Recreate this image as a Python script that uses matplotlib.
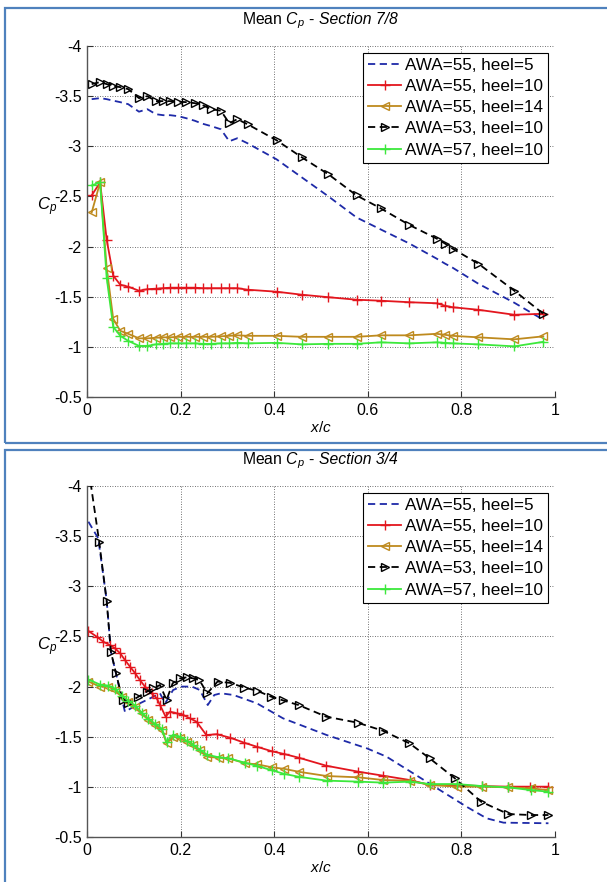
import matplotlib
matplotlib.use("Agg")
import matplotlib.pyplot as plt
from matplotlib.patches import Rectangle

plt.rcParams['font.family'] = ['Liberation Sans', 'DejaVu Sans']
plt.rcParams['mathtext.fontset'] = 'custom'
plt.rcParams['mathtext.rm'] = 'Liberation Sans'
plt.rcParams['mathtext.it'] = 'Liberation Sans:italic'
plt.rcParams['mathtext.bf'] = 'Liberation Sans:bold'

# ---------------- data: Section 7/8 (top) ----------------
x_top = [0.010, 0.028, 0.042, 0.056, 0.071, 0.088, 0.111, 0.129, 0.147, 0.163,
         0.178, 0.195, 0.212, 0.230, 0.247, 0.266, 0.286, 0.304, 0.321, 0.343,
         0.405, 0.459, 0.516, 0.576, 0.628, 0.689, 0.747, 0.765, 0.781, 0.836,
         0.913, 0.975]
top_awa55_h5 = [-3.47, -3.48, -3.47, -3.455, -3.44, -3.42, -3.345, -3.37, -3.32, -3.31,
                -3.31, -3.30, -3.28, -3.255, -3.225, -3.20, -3.17, -3.05, -3.08, -3.03,
                -2.87, -2.69, -2.50, -2.29, -2.17, -2.03, -1.88, -1.83, -1.79, -1.63,
                -1.44, -1.27]
top_awa55_h10 = [-2.51, -2.64, -2.07, -1.71, -1.62, -1.60, -1.56, -1.575, -1.58, -1.585,
                 -1.59, -1.59, -1.59, -1.59, -1.585, -1.585, -1.585, -1.585, -1.585, -1.57,
                 -1.55, -1.52, -1.495, -1.47, -1.46, -1.445, -1.435, -1.41, -1.395, -1.37,
                 -1.32, -1.33]
top_awa55_h14 = [-2.34, -2.64, -1.79, -1.28, -1.16, -1.13, -1.085, -1.085, -1.09, -1.095,
                 -1.095, -1.10, -1.10, -1.10, -1.10, -1.10, -1.105, -1.11, -1.115, -1.11,
                 -1.11, -1.10, -1.10, -1.10, -1.115, -1.115, -1.13, -1.12, -1.11, -1.095,
                 -1.075, -1.105]
top_awa53_h10 = [-3.62, -3.64, -3.62, -3.60, -3.59, -3.57, -3.48, -3.50, -3.45, -3.45,
                 -3.45, -3.445, -3.44, -3.43, -3.41, -3.37, -3.355, -3.23, -3.27, -3.22,
                 -3.06, -2.89, -2.72, -2.51, -2.38, -2.215, -2.08, -2.03, -1.98, -1.83,
                 -1.56, -1.33]
top_awa57_h10 = [-2.61, -2.64, -1.69, -1.20, -1.11, -1.06, -1.01, -1.01, -1.025, -1.03,
                 -1.035, -1.035, -1.035, -1.035, -1.03, -1.03, -1.035, -1.035, -1.04, -1.035,
                 -1.04, -1.025, -1.03, -1.03, -1.045, -1.035, -1.045, -1.04, -1.035, -1.025,
                 -1.005, -1.05]

# ---------------- data: Section 3/4 (bottom) ----------------
x_bot_awa55_h5 = [0.003, 0.024, 0.042, 0.051, 0.062, 0.081, 0.113, 0.142, 0.156, 0.167,
                  0.184, 0.202, 0.224, 0.241, 0.258, 0.272, 0.286, 0.313, 0.363, 0.419,
                  0.512, 0.598, 0.640, 0.697, 0.754, 0.811, 0.854, 0.890, 0.986]
bot_awa55_h5 = [-3.644, -3.478, -2.86, -2.35, -2.13, -1.749, -1.833, -1.899, -1.932, -1.833,
                -1.966, -2.00, -2.00, -1.966, -1.816, -1.916, -1.933, -1.916, -1.833, -1.683,
                -1.517, -1.384, -1.301, -1.135, -0.968, -0.802, -0.686, -0.643, -0.637]

x_bot_awa55_h10 = [0.003, 0.021, 0.035, 0.049, 0.060, 0.071, 0.081, 0.092, 0.103, 0.113,
                   0.124, 0.138, 0.149, 0.156, 0.168, 0.177, 0.192, 0.206, 0.220, 0.234,
                   0.255, 0.277, 0.306, 0.336, 0.363, 0.395, 0.421, 0.453, 0.511, 0.580,
                   0.633, 0.690, 0.733, 0.790, 0.843, 0.900, 0.947, 0.986]
bot_awa55_h10 = [-2.554, -2.497, -2.447, -2.414, -2.381, -2.331, -2.265, -2.198, -2.132, -2.065,
                 -1.999, -1.933, -1.883, -1.816, -1.70, -1.75, -1.733, -1.716, -1.683, -1.650,
                 -1.517, -1.525, -1.49, -1.44, -1.40, -1.355, -1.328, -1.29, -1.211, -1.151,
                 -1.111, -1.068, -1.018, -1.018, -1.008, -1.002, -1.002, -1.002]

x_bot_common = [0.003, 0.028, 0.045, 0.060, 0.074, 0.088, 0.103, 0.117, 0.131, 0.145,
                0.160, 0.170, 0.184, 0.199, 0.213, 0.227, 0.241, 0.257, 0.281, 0.302,
                0.338, 0.363, 0.395, 0.421, 0.453, 0.512, 0.580, 0.633, 0.690, 0.733,
                0.790, 0.843, 0.900, 0.948, 0.986]
bot_awa55_h14 = [-2.05, -2.00, -2.00, -1.966, -1.90, -1.85, -1.80, -1.733, -1.667, -1.617,
                 -1.567, -1.434, -1.50, -1.484, -1.45, -1.417, -1.367, -1.30, -1.29, -1.285,
                 -1.235, -1.225, -1.195, -1.18, -1.15, -1.108, -1.095, -1.068, -1.062, -1.018,
                 -1.002, -1.002, -0.995, -0.985, -0.968]
bot_awa57_h10 = [-2.07, -2.02, -2.01, -1.98, -1.91, -1.86, -1.81, -1.74, -1.68, -1.63,
                 -1.58, -1.45, -1.52, -1.50, -1.46, -1.42, -1.37, -1.32, -1.295, -1.285,
                 -1.24, -1.21, -1.165, -1.13, -1.10, -1.062, -1.052, -1.042, -1.052, -1.028,
                 -1.028, -1.008, -0.995, -0.968, -0.952]

x_bot_awa53_h10 = [0.004, 0.026, 0.042, 0.051, 0.062, 0.076, 0.088, 0.110, 0.128, 0.142,
                   0.156, 0.170, 0.183, 0.199, 0.213, 0.227, 0.240, 0.257, 0.279, 0.306,
                   0.336, 0.363, 0.393, 0.419, 0.452, 0.511, 0.578, 0.632, 0.689, 0.732,
                   0.786, 0.842, 0.900, 0.948, 0.986]
bot_awa53_h10 = [-4.15, -3.445, -2.856, -2.348, -2.132, -1.866, -1.839, -1.899, -1.949, -1.982,
                 -2.016, -1.866, -2.033, -2.082, -2.092, -2.082, -2.065, -1.933, -2.05, -2.037,
                 -1.99, -1.959, -1.90, -1.862, -1.816, -1.70, -1.64, -1.56, -1.434, -1.285,
                 -1.085, -0.852, -0.729, -0.719, -0.719]

labels = ['AWA=55, heel=5', 'AWA=55, heel=10', 'AWA=55, heel=14',
          'AWA=53, heel=10', 'AWA=57, heel=10']
sections = ['7/8', '3/4']
x_ticks = [0, 0.2, 0.4, 0.6, 0.8, 1]
x_ticklabels = ['0', '0.2', '0.4', '0.6', '0.8', '1']
y_ticks = [-4, -3.5, -3, -2.5, -2, -1.5, -1, -0.5]
y_ticklabels = ['-4', '-3.5', '-3', '-2.5', '-2', '-1.5', '-1', '-0.5']

C_BLUE = '#1E2AA8'
C_RED = '#E3161E'
C_ORANGE = '#BE8A1E'
C_BLACK = '#000000'
C_GREEN = '#3CE83C'

W, H = 607, 882
fig = plt.figure(figsize=(W / 100, H / 100), dpi=100)


def px_rect(left, top, right, bottom):
    return [left / W, 1 - bottom / H, (right - left) / W, (bottom - top) / H]


# blue picture frames
for (l, t, r, b) in [(5, 8, 615, 443), (5, 450, 615, 890)]:
    fig.add_artist(Rectangle((l / W, 1 - b / H), (r - l) / W, (b - t) / H,
                             transform=fig.transFigure, fill=False,
                             ec='#4F81BD', lw=1.6))

title_parts = []


def draw_panel(rect, section, series, title_y, xlabel_y, ylabel_y):
    ax = fig.add_axes(rect)
    handles = []
    for (xs, ys, color, ls, marker, lab) in series:
        kw = dict(color=color, lw=1.3, label=lab)
        if ls == '--':
            kw['linestyle'] = (0, (4, 2.5))
        if marker is not None:
            kw['marker'] = marker
            if marker in ('<', '>'):
                kw['mfc'] = 'none'
                kw['mec'] = color
                kw['ms'] = 6
                kw['mew'] = 1.0
            else:
                kw['ms'] = 7
                kw['mew'] = 1.0
        h, = ax.plot(xs, ys, **kw)
        handles.append(h)
    ax.set_xlim(0, 1)
    ax.set_ylim(-0.5, -4)
    ax.set_xticks(x_ticks)
    ax.set_xticklabels(x_ticklabels)
    ax.set_yticks(y_ticks)
    ax.set_yticklabels(y_ticklabels)
    ax.tick_params(direction='in', length=4, width=0.8, colors='#333333',
                   labelcolor='black', labelsize=11.5, pad=4)
    for s in ['top', 'right']:
        ax.spines[s].set_visible(False)
    for s in ['left', 'bottom']:
        ax.spines[s].set_color('#555555')
        ax.spines[s].set_linewidth(1.0)
    ax.grid(True, color='#444444', linestyle=(0, (1, 2)), lw=0.6)
    ax.set_axisbelow(True)
    leg = ax.legend(handles=handles, loc='upper right', fontsize=12.3,
                    frameon=True, fancybox=False, framealpha=1,
                    edgecolor='black', handlelength=1.9, handletextpad=0.25,
                    labelspacing=0.36, borderpad=0.3, borderaxespad=0.4,
                    numpoints=1)
    leg.get_frame().set_linewidth(0.8)
    # title in two parts: upright "Mean Cp -" and italic "Section ..."
    t1 = fig.text(0.5, 1 - title_y / H, r'Mean $C_p$ -',
                  ha='left', va='baseline', fontsize=11.3)
    t2 = fig.text(0.5, 1 - title_y / H, 'Section ' + section,
                  ha='left', va='baseline', fontsize=11.3, style='italic')
    title_parts.append((t1, t2))
    fig.text(47 / W, 1 - ylabel_y / H, r'$C_p$',
             ha='center', va='center', fontsize=12)
    fig.text(321 / W, 1 - xlabel_y / H, r'$x/c$',
             ha='center', va='center', fontsize=11)
    return ax


top_series = [
    (x_top, top_awa55_h5, C_BLUE, '--', None, labels[0]),
    (x_top, top_awa55_h10, C_RED, '-', '+', labels[1]),
    (x_top, top_awa55_h14, C_ORANGE, '-', '<', labels[2]),
    (x_top, top_awa53_h10, C_BLACK, '--', '>', labels[3]),
    (x_top, top_awa57_h10, C_GREEN, '-', '+', labels[4]),
]
bot_series = [
    (x_bot_awa55_h5, bot_awa55_h5, C_BLUE, '--', None, labels[0]),
    (x_bot_awa55_h10, bot_awa55_h10, C_RED, '-', '+', labels[1]),
    (x_bot_common, bot_awa55_h14, C_ORANGE, '-', '<', labels[2]),
    (x_bot_awa53_h10, bot_awa53_h10, C_BLACK, '--', '>', labels[3]),
    (x_bot_common, bot_awa57_h10, C_GREEN, '-', '+', labels[4]),
]

draw_panel(px_rect(87, 46, 555, 397), sections[0], top_series, 24, 427, 207)
draw_panel(px_rect(87, 486, 555, 837), sections[1], bot_series, 464, 867, 647)

# centre the two-part titles
fig.canvas.draw()
renderer = fig.canvas.get_renderer()
gap = 4
for (t1, t2) in title_parts:
    w1 = t1.get_window_extent(renderer).width
    w2 = t2.get_window_extent(renderer).width
    total = w1 + gap + w2
    x0 = 320 - total / 2
    y = t1.get_position()[1]
    t1.set_position((x0 / W, y))
    t2.set_position(((x0 + w1 + gap) / W, y))

fig.savefig('out.png', dpi=100)
